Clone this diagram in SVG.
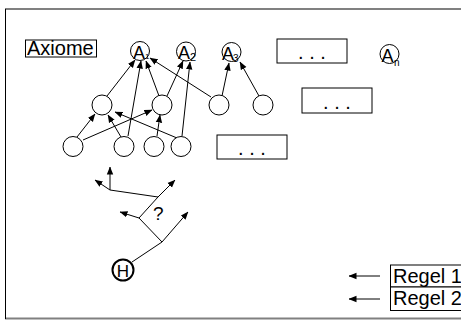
<svg xmlns="http://www.w3.org/2000/svg" width="461" height="326" viewBox="0 0 461 326">
<defs>
<marker id="ah" markerUnits="userSpaceOnUse" markerWidth="8" markerHeight="8" viewBox="0 0 8 8" refX="7.5" refY="4" orient="auto">
<path d="M0,0.8 L8,4 L0,7.2 Z" fill="#000"/>
</marker>
<style>
.n{fill:#fff;stroke:#000;stroke-width:1}
.e{stroke:#000;stroke-width:1;fill:none}
.a{stroke:#000;stroke-width:1;fill:none;marker-end:url(#ah)}
.t{font-family:"Liberation Sans",Arial,sans-serif;fill:#000}
.box{fill:#fff;stroke:#000;stroke-width:1}
</style>
</defs>
<rect width="461" height="326" fill="#fff"/>
<g id="frame">
<line x1="5" y1="9" x2="461" y2="9" stroke="#808080" stroke-width="2"/>
<line x1="5" y1="318.5" x2="461" y2="318.5" stroke="#808080" stroke-width="2"/>
<line x1="5.5" y1="9" x2="5.5" y2="319" stroke="#000" stroke-width="1"/>
</g>
<g id="connectors">
<line class="a" x1="107" y1="96" x2="135" y2="60"/>
<line class="a" x1="128" y1="136" x2="141" y2="61"/>
<line class="a" x1="159" y1="96" x2="146" y2="61"/>
<line class="a" x1="211" y1="97" x2="150" y2="58"/>
<line class="a" x1="167" y1="96" x2="183" y2="61"/>
<line class="a" x1="182" y1="136" x2="190" y2="62"/>
<line class="a" x1="222" y1="96" x2="229" y2="63"/>
<line class="a" x1="259" y1="96" x2="240" y2="62"/>
<line class="a" x1="77" y1="137" x2="95" y2="114"/>
<line class="a" x1="83" y1="140" x2="152" y2="110"/>
<line class="a" x1="121" y1="137" x2="108" y2="115"/>
<line class="a" x1="177" y1="138" x2="115" y2="112"/>
<line class="a" x1="157" y1="136" x2="160" y2="115"/>
<line class="e" x1="110" y1="190" x2="158" y2="197"/>
<line class="a" x1="110" y1="190" x2="95" y2="180"/>
<line class="a" x1="110" y1="190" x2="110" y2="167"/>
<line class="a" x1="158" y1="197" x2="175" y2="180"/>
<line class="e" x1="158" y1="197" x2="139" y2="218"/>
<line class="a" x1="139" y1="218" x2="120" y2="212"/>
<line class="e" x1="139" y1="218" x2="162" y2="242"/>
<line class="a" x1="162" y1="242" x2="188" y2="212"/>
<line class="e" x1="162" y1="242" x2="132" y2="262"/>
<line class="a" x1="380" y1="276" x2="349" y2="276"/>
<line class="a" x1="380" y1="299" x2="349" y2="299"/>
</g>
<g id="axiome">
<rect class="box" x="25.5" y="40" width="71" height="17"/>
<text class="t" x="27" y="55" font-size="20">Axiome</text>
</g>
<g id="A1">
<circle class="n" cx="140" cy="51" r="9.5"/>
<text class="t" x="133" y="58.5" font-size="18">A</text>
<text class="t" x="145" y="58.5" font-size="8">1</text>
</g>
<g id="A2">
<circle class="n" cx="186" cy="51.5" r="9.5"/>
<text class="t" x="178" y="59" font-size="18">A</text>
<text class="t" x="190" y="61" font-size="11">2</text>
</g>
<g id="A3">
<circle class="n" cx="231.5" cy="52" r="9.5"/>
<text class="t" x="222" y="59.5" font-size="18">A</text>
<text class="t" x="233" y="62" font-size="10">3</text>
</g>
<g id="An">
<circle class="n" cx="389.5" cy="54" r="9.5"/>
<text class="t" x="381.5" y="61.5" font-size="18">A</text>
<text class="t" x="394" y="66" font-size="10">n</text>
</g>
<g id="dots1">
<rect class="box" x="277" y="39" width="70" height="24"/>
<text class="t" x="312" y="59" font-size="20" text-anchor="middle">. . .</text>
</g>
<g id="dots2">
<rect class="box" x="302" y="88" width="70" height="25"/>
<text class="t" x="337" y="108.5" font-size="20" text-anchor="middle">. . .</text>
</g>
<g id="dots3">
<rect class="box" x="217" y="135" width="70" height="24"/>
<text class="t" x="252" y="154.5" font-size="20" text-anchor="middle">. . .</text>
</g>
<g id="m1"><circle class="n" cx="102" cy="105" r="10"/></g>
<g id="m2"><circle class="n" cx="162" cy="105" r="10"/></g>
<g id="m3"><circle class="n" cx="219" cy="105" r="10"/></g>
<g id="m4"><circle class="n" cx="263" cy="105" r="10"/></g>
<g id="b1"><circle class="n" cx="73" cy="146.5" r="10"/></g>
<g id="b2"><circle class="n" cx="124" cy="146.5" r="10"/></g>
<g id="b3"><circle class="n" cx="154" cy="146.5" r="10"/></g>
<g id="b4"><circle class="n" cx="181" cy="146.5" r="10"/></g>
<g id="question">
<text class="t" x="153" y="219.5" font-size="19">?</text>
</g>
<g id="theta">
<circle cx="123" cy="270" r="10.5" fill="#fff" stroke="#000" stroke-width="2"/>
<text class="t" x="123" y="276.5" font-size="17" text-anchor="middle">H</text>
</g>
<g id="regel1">
<rect class="box" x="390.5" y="265" width="75" height="22"/>
<text class="t" x="393" y="283" font-size="20">Regel 1</text>
</g>
<g id="regel2">
<rect class="box" x="390.5" y="287" width="75" height="23.5"/>
<text class="t" x="393" y="305" font-size="20">Regel 2</text>
</g>
</svg>
